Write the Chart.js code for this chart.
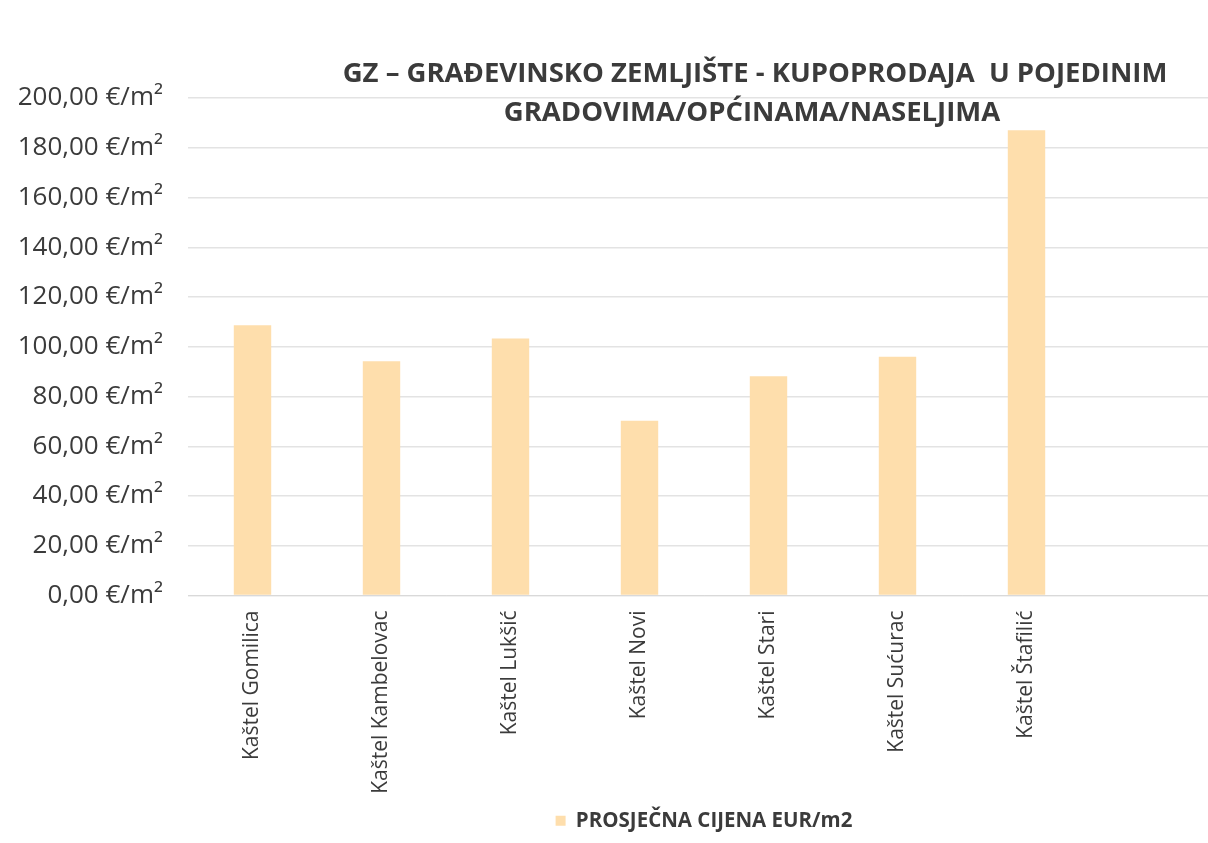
<!DOCTYPE html>
<html>
<head>
<meta charset="utf-8">
<script src="https://cdn.jsdelivr.net/npm/chart.js@4.4.1/dist/chart.umd.min.js"></script>
<style>
  html, body { margin: 0; padding: 0; background: #fff; overflow: hidden; }
  #wrap { width: 1225px; height: 843px; }
</style>
</head>
<body>
<div id="wrap"><canvas id="priceChart"></canvas></div>
<script>
// data
const categories = ['Kaštel Gomilica', 'Kaštel Kambelovac', 'Kaštel Lukšić', 'Kaštel Novi',
                    'Kaštel Stari', 'Kaštel Sućurac', 'Kaštel Štafilić', ''];
const prices = [108.6, 94.2, 103.3, 70.3, 88.1, 96.0, 187.0, null];
const seriesName = 'PROSJEČNA CIJENA EUR/m2';
const titleLines = ['GZ – GRAĐEVINSKO ZEMLJIŠTE - KUPOPRODAJA  U POJEDINIM', 'GRADOVIMA/OPĆINAMA/NASELJIMA'];

const textColor = '#3b3b3b';
const barColor = 'rgb(254, 222, 172)';

// title sits over the plot, off-centre, so it is drawn here
const titlePlugin = {
    id: 'overTitle',
    afterDraw(chart) {
        const c = chart.ctx;
        c.save();
        c.fillStyle = textColor;
        c.font = 'bold 27.5px "Open Sans"';
        c.textAlign = 'center';
        c.textBaseline = 'alphabetic';
        c.fillText(titleLines[0], 755, 82);
        c.fillText(titleLines[1], 752, 121);
        c.restore();
    }
};

const ctx = document.getElementById('priceChart').getContext('2d');
const priceChart = new Chart(ctx, {
    type: 'bar',
    data: {
        labels: categories,
        datasets: [{
            label: seriesName,
            data: prices,
            backgroundColor: barColor,
            borderWidth: 0,
            barPercentage: 0.29,
            categoryPercentage: 1
        }]
    },
    options: {
        responsive: true,
        maintainAspectRatio: false,
        animation: false,
        layout: { padding: { top: 98, right: 5, bottom: 2, left: 0 } },
        plugins: {
            title: { display: false },
            tooltip: { enabled: false },
            legend: {
                position: 'bottom',
                fullSize: false,
                labels: {
                    boxWidth: 10,
                    boxHeight: 10,
                    padding: 8,
                    color: textColor,
                    font: { family: '"Open Sans"', size: 20.5, weight: 'bold' }
                }
            }
        },
        scales: {
            x: {
                grid: { display: false, drawTicks: false },
                border: { color: '#d9d9d9' },
                ticks: {
                    color: textColor,
                    maxRotation: 90,
                    minRotation: 90,
                    padding: 15,
                    autoSkip: false,
                    font: { family: '"Open Sans"', size: 21 }
                },
                afterFit(scale) { scale.height = 207; }
            },
            y: {
                min: 0,
                max: 200,
                grid: { color: '#e3e3e3', lineWidth: 1.5, drawTicks: false },
                border: { display: false },
                ticks: {
                    stepSize: 20,
                    padding: 25,
                    color: textColor,
                    font: { family: '"Open Sans"', size: 26 },
                    callback: v => v.toFixed(2).replace('.', ',') + ' €/m²'
                },
                afterFit(scale) { scale.width = 188; }
            }
        }
    },
    plugins: [titlePlugin]
});
</script>
</body>
</html>
